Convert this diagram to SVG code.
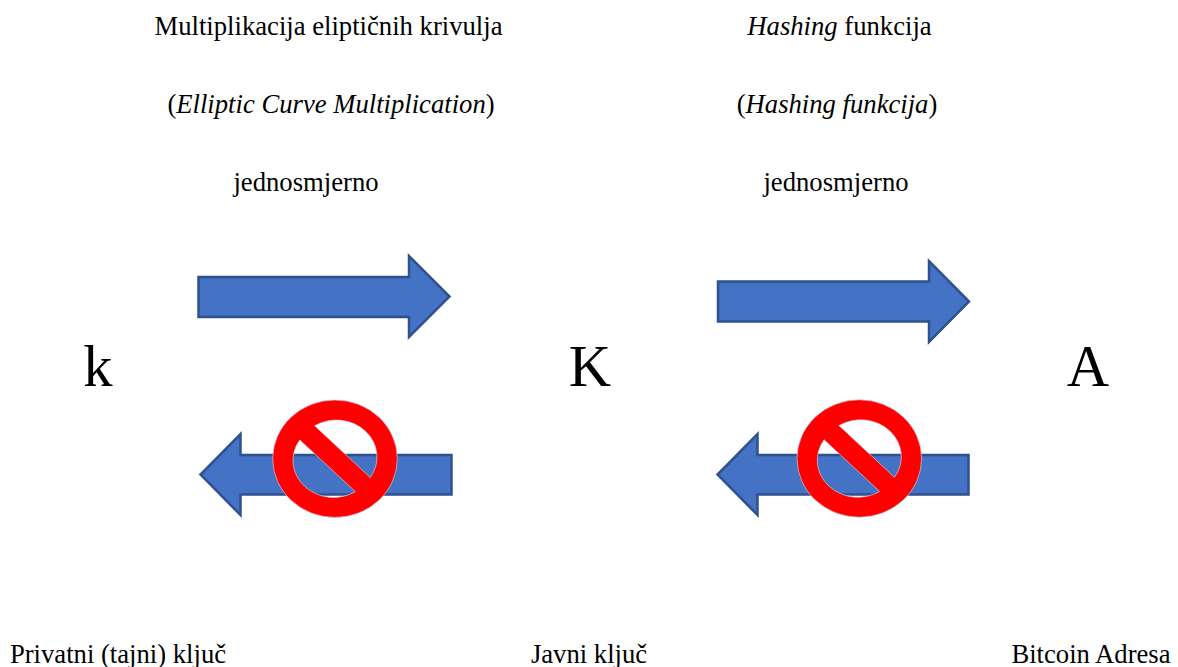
<svg xmlns="http://www.w3.org/2000/svg" width="1178" height="667" viewBox="0 0 1178 667">
<style>
text{font-family:"Liberation Serif","Times New Roman",serif;fill:#000}
.t{font-size:26.67px}
.big{font-size:58.67px}
.i{font-style:italic}
.arrow{fill:#4472c4;stroke:#2f528f;stroke-width:2.5;stroke-linejoin:miter}
.no{fill:#f00;fill-rule:evenodd;stroke:#c9cfe6;stroke-width:.7}
</style>
<defs>
<path id="no" class="no" d="M-62.300 0A62.300 58.700 0 1 1 62.300 0A62.300 58.700 0 1 1-62.300 0ZM35.200 18.800A40.700 37 0 0 0-20.400-33ZM-35.200-18.800A40.700 37 0 0 0 20.400 33Z"/>
</defs>
<rect width="1178" height="667" fill="#fff"/>
<g id="connectors">
<path id="arrow-k-K" class="arrow" d="M198.500 277H409V256L449.500 296.500 409 337V317H198.500Z"/>
<path id="arrow-K-k" class="arrow" d="M451.500 455H240.500V434L200.500 474.500 240.500 515V494.500H451.500Z"/>
<path id="arrow-K-A" class="arrow" d="M718 281.500H929V261L969 301.500 929 342V321.500H718Z"/>
<path id="arrow-A-K" class="arrow" d="M968.500 455H757.500V434L717.500 474.500 757.500 515V494.500H968.500Z"/>
</g>
<g id="no-entry-1"><use href="#no" x="335" y="458.700"/></g>
<g id="no-entry-2"><use href="#no" x="859.300" y="458.500"/></g>
<g id="label-ecm">
<text class="t" x="328.500" y="35" text-anchor="middle">Multiplikacija eliptičnih krivulja</text>
<text class="t" x="331" y="113" text-anchor="middle">(<tspan class="i">Elliptic Curve Multiplication</tspan>)</text>
<text class="t" x="306" y="191" text-anchor="middle">jednosmjerno</text>
</g>
<g id="label-hash">
<text class="t" x="839.500" y="35" text-anchor="middle"><tspan class="i">Hashing</tspan> funkcija</text>
<text class="t" x="837" y="113" text-anchor="middle">(<tspan class="i">Hashing funkcija</tspan>)</text>
<text class="t" x="836" y="191" text-anchor="middle">jednosmjerno</text>
</g>
<g id="node-k">
<text class="big" x="98" y="386" text-anchor="middle">k</text>
<text class="t" x="118" y="663" text-anchor="middle">Privatni (tajni) ključ</text>
</g>
<g id="node-K">
<text class="big" x="590" y="386" text-anchor="middle">K</text>
<text class="t" x="589" y="663" text-anchor="middle">Javni ključ</text>
</g>
<g id="node-A">
<text class="big" x="1088" y="386" text-anchor="middle">A</text>
<text class="t" x="1091" y="663" text-anchor="middle">Bitcoin Adresa</text>
</g>
</svg>
